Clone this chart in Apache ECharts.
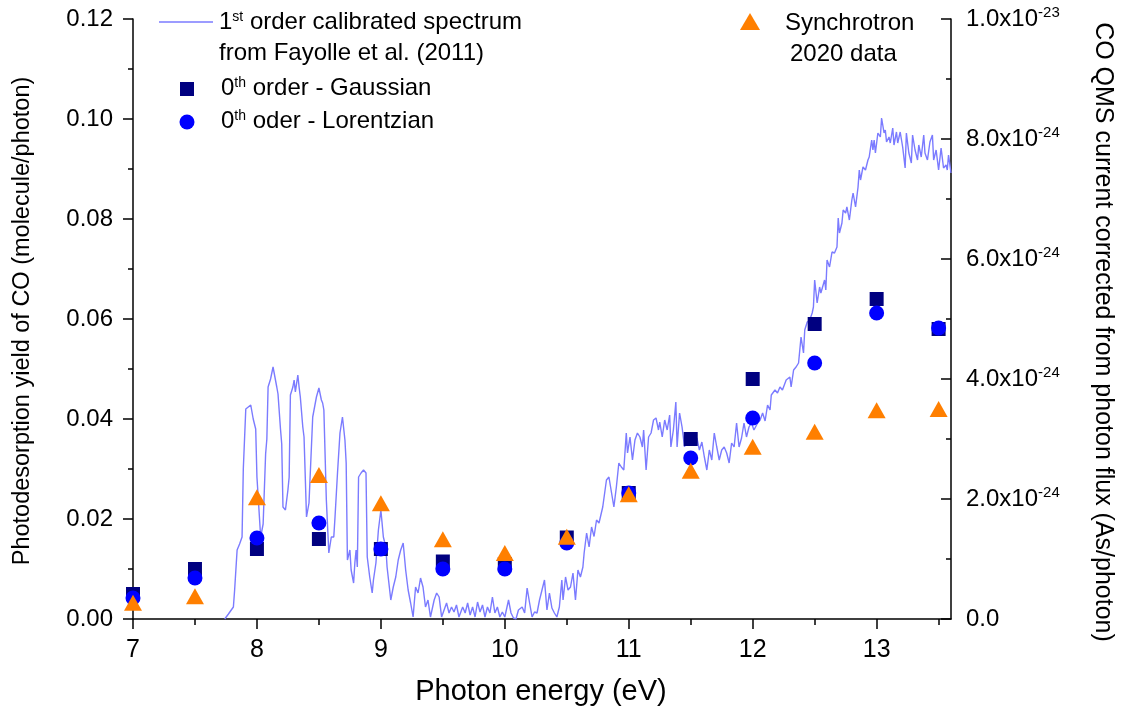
<!DOCTYPE html>
<html>
<head>
<meta charset="utf-8">
<script src="https://cdn.jsdelivr.net/npm/echarts@6/dist/echarts.min.js"></script>
<style>html,body{margin:0;padding:0;background:#fff;}#c{width:1125px;height:715px;}</style>
</head>
<body>
<div id="c"></div>
<script>
// ---- Data ----
const energies = [7, 7.5, 8, 8.5, 9, 9.5, 10, 10.5, 11, 11.5, 12, 12.5, 13, 13.5];
const gaussian = [0.005, 0.010, 0.014, 0.016, 0.014, 0.0115, 0.011, 0.0163, 0.0252, 0.036, 0.048, 0.059, 0.064, 0.058];
const lorentzian = [0.0042, 0.0082, 0.0162, 0.0192, 0.014, 0.010, 0.010, 0.0152, 0.0252, 0.0322, 0.0402, 0.0512, 0.0612, 0.0582];
// Synchrotron 2020 data, CO QMS current in units of 1e-24 As/photon
const synchrotron = [0.27, 0.38, 2.03, 2.40, 1.93, 1.33, 1.10, 1.37, 2.08, 2.47, 2.87, 3.12, 3.48, 3.50];

const specEnergy = [7.74,7.77,7.81,7.82,7.84,7.86,7.88,7.89,7.91,7.92,7.95,7.96,7.97,7.99,8.00,8.03,8.05,8.07,8.08,8.09,8.11,8.13,8.14,8.16,8.17,8.19,8.20,8.21,8.23,8.25,8.26,8.27,8.29,8.30,8.31,8.33,8.34,8.35,8.37,8.38,8.40,8.42,8.43,8.45,8.48,8.50,8.52,8.53,8.54,8.56,8.58,8.60,8.62,8.63,8.65,8.67,8.69,8.70,8.71,8.72,8.73,8.75,8.76,8.78,8.79,8.80,8.81,8.82,8.84,8.86,8.88,8.89,8.91,8.93,8.94,8.96,8.98,9.00,9.02,9.04,9.05,9.08,9.10,9.12,9.14,9.16,9.18,9.20,9.22,9.24,9.26,9.28,9.30,9.32,9.34,9.36,9.38,9.40,9.43,9.45,9.47,9.49,9.51,9.53,9.55,9.57,9.59,9.61,9.63,9.66,9.68,9.70,9.72,9.74,9.76,9.78,9.80,9.82,9.84,9.86,9.88,9.90,9.92,9.94,9.96,9.98,10.00,10.03,10.05,10.07,10.09,10.11,10.14,10.16,10.18,10.20,10.22,10.24,10.26,10.28,10.30,10.32,10.34,10.36,10.38,10.40,10.42,10.44,10.46,10.47,10.49,10.51,10.53,10.55,10.57,10.59,10.61,10.63,10.64,10.66,10.68,10.70,10.72,10.74,10.76,10.79,10.82,10.84,10.88,10.90,10.92,10.94,10.96,10.98,10.99,11.01,11.03,11.05,11.07,11.09,11.11,11.12,11.14,11.16,11.18,11.20,11.22,11.24,11.25,11.27,11.29,11.31,11.33,11.34,11.36,11.38,11.39,11.41,11.43,11.45,11.47,11.49,11.51,11.53,11.55,11.57,11.59,11.61,11.63,11.65,11.67,11.69,11.71,11.73,11.75,11.77,11.79,11.81,11.83,11.85,11.87,11.89,11.91,11.93,11.95,11.97,11.99,12.01,12.04,12.06,12.08,12.10,12.12,12.14,12.15,12.18,12.20,12.22,12.24,12.27,12.30,12.31,12.33,12.35,12.37,12.39,12.41,12.42,12.44,12.46,12.48,12.49,12.50,12.52,12.54,12.55,12.58,12.59,12.60,12.62,12.64,12.66,12.68,12.69,12.70,12.72,12.73,12.75,12.76,12.78,12.80,12.81,12.83,12.85,12.86,12.87,12.89,12.91,12.93,12.94,12.96,12.97,12.98,12.99,13.01,13.03,13.04,13.06,13.07,13.08,13.10,13.11,13.13,13.14,13.16,13.17,13.19,13.21,13.23,13.24,13.26,13.28,13.29,13.31,13.33,13.34,13.36,13.38,13.39,13.41,13.43,13.45,13.46,13.48,13.50,13.52,13.54,13.56,13.57,13.58,13.60];
const specYield = [0,0.001,0.0024,0.0058,0.0138,0.015,0.0164,0.030,0.042,0.0424,0.0428,0.043,0.040,0.038,0.0284,0.0164,0.019,0.033,0.036,0.0464,0.048,0.0504,0.050,0.0464,0.045,0.038,0.035,0.0224,0.0218,0.0258,0.0284,0.0448,0.0464,0.0478,0.0454,0.0488,0.0464,0.0444,0.0384,0.0364,0.0204,0.0232,0.0232,0.0404,0.0444,0.0462,0.0438,0.0432,0.0418,0.0238,0.0132,0.0164,0.0164,0.0204,0.0292,0.0372,0.0404,0.0404,0.0358,0.0312,0.0118,0.0138,0.0098,0.0072,0.0112,0.0138,0.0104,0.0284,0.0292,0.0298,0.0292,0.0124,0.0084,0.0052,0.0078,0.0112,0.0178,0.0218,0.0164,0.0144,0.0104,0.0038,0.0064,0.0084,0.0118,0.0138,0.0152,0.0098,0.0058,0.0032,0.0004,0.0064,0.0052,0.0082,0.0064,0.0024,0.0038,0.0004,0.0038,0.0052,0.0044,0.0004,0.0018,0.0032,0.0012,0.0024,0.0014,0.0028,0.0004,0.0024,0.0012,0.0032,0.0008,0.0024,0.0004,0.0034,0.0014,0.0028,0.0004,0.0024,0.0012,0.0044,0.0012,0.0024,0.0004,0.0014,0.0004,0.0038,0.0012,0.0002,0,0.0018,0.0024,0.0012,0.0062,0.0032,0.0004,0.0014,0.0012,0.0038,0.0058,0.0078,0.0018,0.0052,0.0022,0.0012,0.0004,0.0024,0.0078,0.0038,0.0084,0.0058,0.0064,0.0092,0.0038,0.0098,0.0084,0.0104,0.0132,0.0172,0.0144,0.0184,0.0165,0.0198,0.0192,0.0224,0.0278,0.0284,0.0224,0.0264,0.0312,0.0304,0.0298,0.0372,0.0332,0.0364,0.0318,0.0358,0.0372,0.0364,0.0344,0.0378,0.0298,0.0364,0.0372,0.0398,0.0402,0.0378,0.0394,0.0364,0.0398,0.0378,0.0408,0.0344,0.0378,0.0434,0.0344,0.0412,0.0384,0.0344,0.0372,0.0354,0.0360,0.0354,0.0362,0.0338,0.0354,0.0324,0.0298,0.0338,0.0318,0.0372,0.0344,0.0318,0.0338,0.0344,0.0332,0.0312,0.0352,0.0344,0.0392,0.0344,0.0362,0.0392,0.0364,0.0384,0.0392,0.0378,0.0392,0.0398,0.0412,0.0396,0.0428,0.0418,0.0448,0.0458,0.0452,0.0464,0.0458,0.0478,0.0484,0.0464,0.0498,0.0504,0.0512,0.0564,0.0532,0.0578,0.0594,0.0598,0.0612,0.0624,0.0678,0.0632,0.0664,0.0652,0.0678,0.0658,0.0718,0.0704,0.0734,0.0732,0.0744,0.0802,0.0772,0.0792,0.0818,0.0812,0.0824,0.0798,0.0838,0.0852,0.0824,0.0864,0.0898,0.0878,0.0904,0.0898,0.0918,0.0924,0.0958,0.0938,0.0958,0.0932,0.0972,0.0964,0.1002,0.0972,0.0978,0.0954,0.0964,0.0952,0.0982,0.0948,0.0974,0.0952,0.0974,0.0944,0.0902,0.0972,0.0932,0.0912,0.0968,0.0938,0.0918,0.0948,0.0924,0.0968,0.0932,0.0918,0.0954,0.0968,0.0918,0.0938,0.0898,0.0942,0.0902,0.0908,0.0898,0.0928,0.0892];

const xMajorTicks = [7, 8, 9, 10, 11, 12, 13];
const xMinorTicks = [7.5, 8.5, 9.5, 10.5, 11.5, 12.5, 13.5];

// ---- Chart ----
const FONT = '"Liberation Sans", Arial, Helvetica, sans-serif';
const chart = echarts.init(document.getElementById('c'), null, {renderer: 'canvas'});
const axisLineStyle = {color: '#000', width: 1.5};

const option = {
  animation: false,
  backgroundColor: '#fff',
  grid: {left: 133, right: 174, top: 19, bottom: 96, containLabel: false},
  xAxis: [{
    type: 'value', min: 7, max: 13.6, interval: 1, position: 'bottom',
    axisLine: {show: true, onZero: false, lineStyle: axisLineStyle},
    axisTick: {show: true, customValues: xMajorTicks, length: 10, lineStyle: axisLineStyle},
    axisLabel: {customValues: xMajorTicks, fontSize: 25, fontFamily: FONT, color: '#000', margin: 19},
    splitLine: {show: false}
  }, {
    type: 'value', min: 7, max: 13.6, interval: 1, position: 'bottom',
    axisLine: {show: false, onZero: false},
    axisTick: {show: true, customValues: xMinorTicks, length: 6, lineStyle: axisLineStyle},
    axisLabel: {show: false},
    splitLine: {show: false}
  }],
  yAxis: [{
    type: 'value', min: 0, max: 0.12, interval: 0.02, position: 'left',
    axisLine: {show: true, onZero: false, lineStyle: axisLineStyle},
    axisTick: {show: true, length: 10, lineStyle: axisLineStyle},
    minorTick: {show: true, splitNumber: 2, length: 5, lineStyle: axisLineStyle},
    axisLabel: {fontSize: 24, fontFamily: FONT, color: '#000', margin: 20,
      formatter: v => v.toFixed(2)},
    splitLine: {show: false}, minorSplitLine: {show: false}
  }, {
    type: 'value', min: 0, max: 10, interval: 2, position: 'right',
    axisLine: {show: true, onZero: false, lineStyle: axisLineStyle},
    axisTick: {show: true, inside: true, length: 10, lineStyle: axisLineStyle},
    minorTick: {show: true, splitNumber: 2, length: 5, lineStyle: axisLineStyle},
    axisLabel: {margin: 15, color: '#000',
      formatter: v => v === 0 ? '{a|0.0}' : (v === 10 ? '{a|1.0x10}{s|-23}' : '{a|' + v.toFixed(1) + 'x10}{s|-24}'),
      rich: {
        a: {fontSize: 24, fontFamily: FONT, color: '#000'},
        s: {fontSize: 15, fontFamily: FONT, color: '#000', verticalAlign: 'top', padding: [0, 0, 12, 0]}
      }},
    splitLine: {show: false}, minorSplitLine: {show: false}
  }],
  series: [{
    name: '1st order calibrated spectrum', type: 'line', xAxisIndex: 0, yAxisIndex: 0,
    data: specEnergy.map((e, i) => [e, specYield[i]]),
    showSymbol: false, symbol: 'none', clip: true,
    lineStyle: {color: '#7b7bff', width: 1.4}, z: 1
  }, {
    name: '0th order - Gaussian', type: 'scatter', xAxisIndex: 0, yAxisIndex: 0,
    data: energies.map((e, i) => [e, gaussian[i]]),
    symbol: 'rect', symbolSize: 14, itemStyle: {color: '#000080', opacity: 1}, z: 2
  }, {
    name: '0th oder - Lorentzian', type: 'scatter', xAxisIndex: 0, yAxisIndex: 0,
    data: energies.map((e, i) => [e, lorentzian[i]]),
    symbol: 'circle', symbolSize: 15, itemStyle: {color: '#0000ff', opacity: 1}, z: 3
  }, {
    name: 'Synchrotron 2020 data', type: 'scatter', xAxisIndex: 0, yAxisIndex: 1,
    data: energies.map((e, i) => [e, synchrotron[i]]),
    symbol: 'triangle', symbolSize: [18, 16], itemStyle: {color: '#ff7f00', opacity: 1}, z: 4
  }],
  graphic: [
    // axis titles
    {type: 'text', x: 541, y: 692, style: {text: 'Photon energy (eV)', fontSize: 29, fontFamily: FONT, fill: '#000', align: 'center', verticalAlign: 'middle'}},
    {type: 'text', x: 23, y: 321, rotation: Math.PI / 2, style: {text: 'Photodesorption yield of CO (molecule/photon)', fontSize: 23.5, fontFamily: FONT, fill: '#000', align: 'center', verticalAlign: 'middle'}},
    {type: 'text', x: 1103, y: 332, rotation: -Math.PI / 2, style: {text: 'CO QMS current corrected from photon flux (As/photon)', fontSize: 25, fontFamily: FONT, fill: '#000', align: 'center', verticalAlign: 'middle'}},
    // legend
    {type: 'line', shape: {x1: 159, y1: 22, x2: 213, y2: 22}, style: {stroke: '#7b7bff', lineWidth: 1.4}},
    {type: 'text', x: 219, y: 22, style: {text: '{n|1}{s|st}{n| order calibrated spectrum}', verticalAlign: 'middle', align: 'left',
      rich: {n: {fontSize: 24, fontFamily: FONT, fill: '#000'}, s: {fontSize: 14, fontFamily: FONT, fill: '#000', verticalAlign: 'top', padding: [0, 0, 10, 0]}}}},
    {type: 'text', x: 219, y: 53, style: {text: 'from Fayolle et al. (2011)', fontSize: 24, fontFamily: FONT, fill: '#000', align: 'left', verticalAlign: 'middle'}},
    {type: 'rect', shape: {x: 180, y: 82, width: 14, height: 14}, style: {fill: '#000080'}},
    {type: 'text', x: 221, y: 88, style: {text: '{n|0}{s|th}{n| order - Gaussian}', verticalAlign: 'middle', align: 'left',
      rich: {n: {fontSize: 24, fontFamily: FONT, fill: '#000'}, s: {fontSize: 14, fontFamily: FONT, fill: '#000', verticalAlign: 'top', padding: [0, 0, 10, 0]}}}},
    {type: 'circle', shape: {cx: 187, cy: 122, r: 7.5}, style: {fill: '#0000ff'}},
    {type: 'text', x: 221, y: 121, style: {text: '{n|0}{s|th}{n| oder - Lorentzian}', verticalAlign: 'middle', align: 'left',
      rich: {n: {fontSize: 24, fontFamily: FONT, fill: '#000'}, s: {fontSize: 14, fontFamily: FONT, fill: '#000', verticalAlign: 'top', padding: [0, 0, 10, 0]}}}},
    {type: 'polygon', shape: {points: [[750, 13], [760, 30], [740, 30]]}, style: {fill: '#ff7f00'}},
    {type: 'text', x: 785, y: 23, style: {text: 'Synchrotron', fontSize: 24, fontFamily: FONT, fill: '#000', align: 'left', verticalAlign: 'middle'}},
    {type: 'text', x: 790, y: 54, style: {text: '2020 data', fontSize: 24, fontFamily: FONT, fill: '#000', align: 'left', verticalAlign: 'middle'}}
  ]
};
chart.setOption(option);
</script>
</body>
</html>
